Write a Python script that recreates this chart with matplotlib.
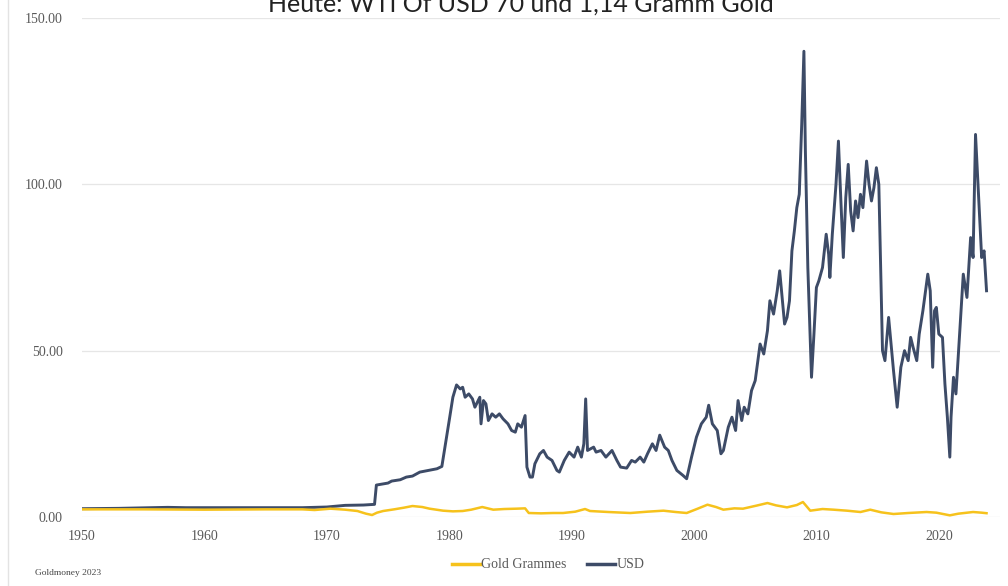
import matplotlib.pyplot as plt
from matplotlib.lines import Line2D

# WTI oil price in USD (fractional year, value)
usd_years = [1950.0, 1953.0, 1957.0, 1958.5, 1962.0, 1968.0, 1970.0, 1971.5, 1973.0, 1973.9,
             1974.05, 1975.0, 1975.3, 1976.0, 1976.5, 1977.0, 1977.6, 1978.3, 1979.0, 1979.4,
             1979.7, 1980.0, 1980.3, 1980.6, 1980.9, 1981.1, 1981.3, 1981.6, 1981.9, 1982.1,
             1982.5, 1982.6, 1982.8, 1983.0, 1983.2, 1983.5, 1983.8, 1984.1, 1984.4, 1984.8,
             1985.1, 1985.4, 1985.6, 1985.9, 1986.2, 1986.35, 1986.6, 1986.8, 1987.0, 1987.4,
             1987.7, 1988.0, 1988.4, 1988.8, 1989.0, 1989.4, 1989.8, 1990.2, 1990.5, 1990.8,
             1991.0, 1991.15, 1991.3, 1991.8, 1992.0, 1992.4, 1992.8, 1993.3, 1993.7, 1994.0,
             1994.5, 1994.9, 1995.2, 1995.6, 1995.9, 1996.2, 1996.6, 1996.9, 1997.2, 1997.6,
             1997.9, 1998.2, 1998.6, 1999.1, 1999.4, 1999.8, 2000.2, 2000.6, 2001.0, 2001.2,
             2001.5, 2001.9, 2002.2, 2002.4, 2002.8, 2003.1, 2003.4, 2003.6, 2003.9, 2004.1,
             2004.4, 2004.7, 2005.0, 2005.4, 2005.7, 2006.0, 2006.2, 2006.5, 2006.8, 2007.0,
             2007.3, 2007.4, 2007.6, 2007.8, 2008.0, 2008.2, 2008.4, 2008.6, 2008.8, 2008.98,
             2009.1, 2009.3, 2009.6, 2009.8, 2010.0, 2010.2, 2010.5, 2010.8, 2011.0, 2011.1,
             2011.3, 2011.6, 2011.8, 2012.0, 2012.2, 2012.4, 2012.6, 2012.8, 2013.0, 2013.2,
             2013.4, 2013.6, 2013.8, 2014.1, 2014.3, 2014.5, 2014.7, 2014.9, 2015.1, 2015.4,
             2015.6, 2015.9, 2016.1, 2016.3, 2016.6, 2016.9, 2017.2, 2017.5, 2017.7, 2017.9,
             2018.2, 2018.4, 2018.7, 2019.1, 2019.3, 2019.5, 2019.65, 2019.8, 2020.0, 2020.3,
             2020.5, 2020.7, 2020.9, 2021.0, 2021.2, 2021.4, 2021.7, 2022.0, 2022.3, 2022.6,
             2022.8, 2023.0, 2023.2, 2023.5, 2023.7, 2023.9]
usd_values = [2.5, 2.6, 2.9, 2.8, 2.8, 2.8, 3.0, 3.5, 3.6, 3.8,
              9.6, 10.2, 10.8, 11.2, 12.0, 12.3, 13.5, 14.0, 14.5, 15.2,
              22, 29, 36, 39.7, 38.5, 39, 36, 37, 35.5, 33,
              36, 28, 35, 34, 29, 31, 30, 31, 29.5, 28,
              26, 25.5, 28, 27, 30.5, 15, 12, 12, 16, 19,
              20, 18, 17, 14, 13.5, 17, 19.5, 18, 21, 18,
              22, 35.5, 20, 21, 19.5, 20, 18, 20, 17, 15,
              14.7, 17, 16.5, 18, 16.5, 19, 22, 20, 24.6, 21,
              20, 17, 14, 12.5, 11.5, 18, 24, 28, 30, 33.6,
              28, 26, 19, 20, 27, 30, 26, 35, 29, 33,
              31, 38, 41, 52, 49, 56, 65, 61, 68, 74,
              62, 58, 60, 65, 80, 86, 93, 97, 118, 140,
              110, 75, 42, 55, 69, 71, 75, 85, 79, 72,
              85, 100, 113, 95, 78, 96, 106, 92, 86, 95,
              90, 97, 93, 107, 100, 95, 99, 105, 100, 50,
              47, 60, 52, 44, 33, 45, 50, 47, 54, 51,
              47, 55, 62, 73, 68, 45, 62, 63, 55, 54,
              40, 30, 18, 30, 42, 37, 55, 73, 66, 84,
              78, 115, 100, 78, 80, 68]

# same oil price in grammes of gold
gold_years = [1950, 1955, 1960, 1965, 1968, 1969, 1970.3, 1971.5, 1972.5, 1973.2,
              1973.7, 1974.1, 1974.6, 1975.5, 1976.3, 1977.0, 1977.8, 1978.4, 1979.5, 1980.3,
              1981.1, 1981.8, 1982.7, 1983.6, 1984.5, 1985.5, 1986.2, 1986.5, 1987.5, 1988.5,
              1989.3, 1990.3, 1991.1, 1991.5, 1993, 1994.8, 1996.2, 1997.5, 1998.5, 1999.4,
              2000.3, 2001.1, 2001.8, 2002.4, 2003.3, 2004.0, 2005.2, 2006.0, 2006.7, 2007.6,
              2008.4, 2008.9, 2009.5, 2010.5, 2011.4, 2012.5, 2013.6, 2014.4, 2015.3, 2016.3,
              2017.5, 2019, 2019.8, 2020.9, 2021.6, 2022.8, 2023.5, 2023.9]
gold_values = [2.3, 2.3, 2.2, 2.3, 2.3, 2.1, 2.5, 2.2, 1.8, 1.0,
               0.6, 1.3, 1.8, 2.3, 2.8, 3.3, 3.0, 2.5, 1.9, 1.7,
               1.8, 2.2, 3.0, 2.2, 2.4, 2.5, 2.6, 1.2, 1.1, 1.2,
               1.2, 1.6, 2.4, 1.8, 1.5, 1.2, 1.6, 1.9, 1.5, 1.2,
               2.5, 3.7, 3.0, 2.2, 2.6, 2.5, 3.5, 4.2, 3.5, 2.9,
               3.6, 4.5, 1.9, 2.4, 2.2, 1.9, 1.5, 2.2, 1.4, 0.9,
               1.2, 1.5, 1.3, 0.5, 1.0, 1.5, 1.3, 1.14]

x_ticks = [1950, 1960, 1970, 1980, 1990, 2000, 2010, 2020]
y_ticks = [0, 50, 100, 150]

usd_color = "#3d4b67"
gold_color = "#f6c21c"
label_color = "#595959"
serif = ["Liberation Serif", "DejaVu Serif"]

fig = plt.figure(figsize=(10.08, 5.86), dpi=100)
ax = fig.add_axes([82 / 1008, 1 - 517 / 586, 918 / 1008, 499 / 586])

ax.plot(gold_years, gold_values, color=gold_color, lw=1.8, zorder=3)
ax.plot(usd_years, usd_values, color=usd_color, lw=2.1, zorder=2)

ax.set_xlim(1950, 2025)
ax.set_ylim(0, 150)
ax.set_xticks(x_ticks)
ax.set_yticks(y_ticks)
ax.set_xticklabels([str(y) for y in x_ticks], family=serif, fontsize=10, color=label_color)
ax.set_yticklabels([f"{v:.2f}" for v in y_ticks], family=serif, fontsize=10, color=label_color)
ax.tick_params(length=0)
ax.tick_params(axis="y", pad=14)
ax.tick_params(axis="x", pad=9)
ax.grid(axis="y", color="#e6e6e6", lw=0.9)
ax.set_axisbelow(True)
for s in ax.spines.values():
    s.set_visible(False)

# faint frame line on the left edge
fig.add_artist(Line2D([8 / 1008, 8 / 1008], [0, 1], color="#e3e3e3", lw=1))

# the title is cut at the top edge in the original too
fig.text(0.517, 1 - 12 / 586, "Heute: WTI Of USD 70 und 1,14 Gramm Gold",
         ha="center", va="baseline", fontsize=18, color="#222222",
         family=["Lato", "Open Sans", "DejaVu Sans"])

fig.text(35 / 1008, 1 - 575 / 586, "Goldmoney 2023", family=serif, fontsize=6.8, color="#444444")

handles = [Line2D([], [], color=gold_color, lw=2.5), Line2D([], [], color=usd_color, lw=2.5)]
fig.legend(handles, ["Gold Grammes", "USD"], loc="center", bbox_to_anchor=(548 / 1008, 1 - 565 / 586),
           ncol=2, frameon=False, prop={"family": serif, "size": 10}, labelcolor=label_color,
           handlelength=2.0, handletextpad=0.1, columnspacing=1.5)

fig.savefig("out.png", dpi=100)
